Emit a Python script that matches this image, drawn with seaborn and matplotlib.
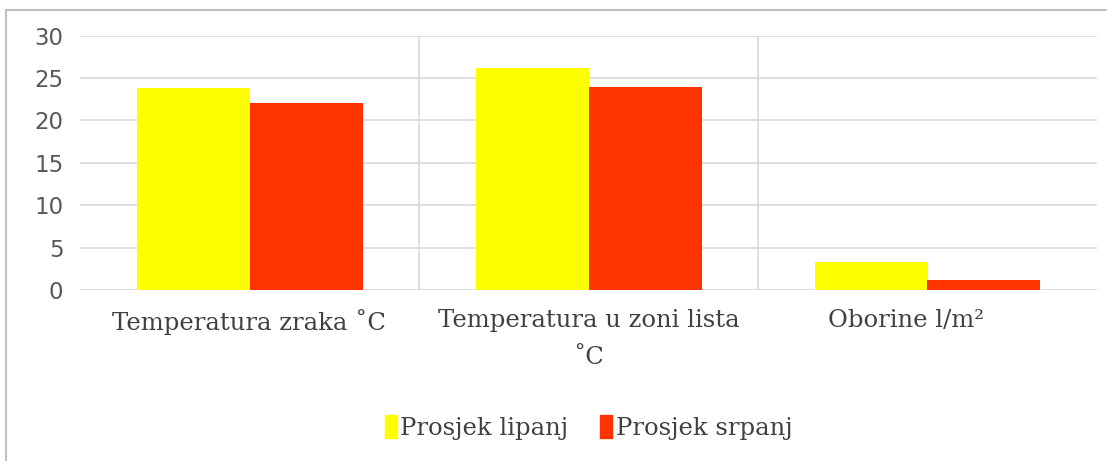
import pandas as pd
import matplotlib.pyplot as plt
import seaborn as sns
from matplotlib.lines import Line2D
from matplotlib.transforms import ScaledTranslation

sns.set_theme(style="white")
plt.rcParams['font.family'] = ['DejaVu Serif']

# data
categories = ['Temperatura zraka ˚C', 'Temperatura u zoni lista\n˚C', 'Oborine l/m²']
series = ['Prosjek lipanj', 'Prosjek srpanj']
lipanj = [23.8, 26.2, 3.3]
srpanj = [22.1, 23.9, 1.2]
colors = ['#FFFF00', '#FF3300']

df = pd.DataFrame({
    'kategorija': categories * 2,
    'serija': [series[0]] * 3 + [series[1]] * 3,
    'vrijednost': lipanj + srpanj,
})

fig = plt.figure(figsize=(11.07, 4.61), dpi=100)
ax = fig.add_axes([80 / 1107, 1 - 290 / 461, 1017 / 1107, 254.3 / 461])

sns.barplot(data=df, x='kategorija', y='vrijednost', hue='serija',
            palette=colors, width=2 / 3, saturation=1, linewidth=0, ax=ax)

ax.set_ylim(0, 30)
ax.set_xlim(-0.5, 2.5)
ax.set_yticks(range(0, 31, 5))
for y in range(0, 31, 5):
    ax.axhline(y, color='#d9d9d9', lw=1.2, zorder=0)
for x in [0.5, 1.5]:
    ax.axvline(x, color='#d9d9d9', lw=1.2, zorder=0)
for s in ax.spines.values():
    s.set_visible(False)

ax.set_xlabel('')
ax.set_ylabel('')
ax.tick_params(axis='y', length=0, pad=12, labelcolor='#595959')
ax.tick_params(axis='x', length=0, pad=14, labelsize=17.5, labelcolor='#404040')
for lab in ax.get_yticklabels():
    lab.set_family('DejaVu Sans')
    lab.set_fontsize(16.5)
xlabs = ax.get_xticklabels()
for lab in xlabs:
    lab.set_linespacing(1.75)
# the last label sits a bit left of its category centre in the original
xlabs[2].set_transform(xlabs[2].get_transform() + ScaledTranslation(-0.22, 0, fig.dpi_scale_trans))

ax.legend(handles=[plt.Rectangle((0, 0), 1, 1, color=c) for c in colors],
          labels=series, loc='center', bbox_to_anchor=(0.5, -0.54),
          ncol=2, frameon=False, fontsize=17.5, handlelength=0.5, handleheight=1.1,
          handletextpad=0.15, columnspacing=1.3, labelcolor='#404040')

# outer chart border (top and left visible)
fig.add_artist(Line2D([6 / 1107, 6 / 1107], [0, 1 - 10 / 461],
                      transform=fig.transFigure, color='#bfbfbf', lw=1.5))
fig.add_artist(Line2D([6 / 1107, 1106 / 1107], [1 - 10 / 461, 1 - 10 / 461],
                      transform=fig.transFigure, color='#bfbfbf', lw=1.5))

fig.savefig('out.png', dpi=100)
